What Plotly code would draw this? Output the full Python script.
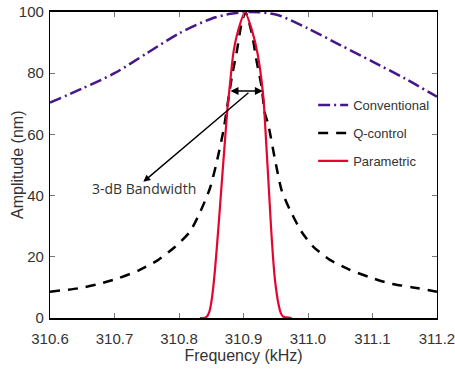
import plotly.graph_objects as go

# Conventional (dash-dot purple)
conv_f = [310.600, 310.650, 310.700, 310.750, 310.800, 310.850, 310.880, 310.910, 310.950, 311.000,
          311.050, 311.100, 311.150, 311.200]
conv_a = [70.4, 75.0, 80.0, 86.5, 93.0, 97.8, 99.4, 100.0, 99.2, 94.6,
          89.2, 83.8, 78.3, 72.3]

# Q-control (black dashed)
q_f = [310.600, 310.644, 310.675, 310.706, 310.737, 310.768, 310.794, 310.817, 310.833, 310.848,
       310.858, 310.869, 310.882, 310.890, 310.897, 310.903, 310.913, 310.920, 310.928, 310.933,
       310.938, 310.949, 310.959, 310.972, 310.990, 311.008, 311.034, 311.065, 311.096, 311.127,
       311.163, 311.200]
q_a = [8.6, 9.7, 11.1, 13.0, 15.5, 19.0, 23.3, 28.2, 34.7, 42.4,
       50.5, 61.4, 78.9, 87.6, 96.3, 100.0, 93.0, 84.3, 75.6, 67.0,
       63.6, 51.6, 41.8, 35.3, 28.2, 23.3, 19.0, 15.7, 13.3, 11.3,
       10.0, 8.6]

# Parametric (red solid)
p_f = [310.8326, 310.840, 310.843, 310.847, 310.8507, 310.8558, 310.862, 310.8749, 310.878, 310.8842,
       310.8919, 310.9023, 310.913, 310.9217, 310.9298, 310.9322, 310.9426, 310.9457, 310.9488, 310.954,
       310.958, 310.9617, 310.9747]
p_a = [0.0, 0.1, 0.4, 2.0, 5.9, 15.7, 32.0, 68.0, 74.2, 86.5,
       94.1, 100.0, 94.1, 86.5, 74.2, 68.0, 30.0, 20.0, 12.4, 4.8,
       1.5, 0.4, 0.0]

x_ticks = [310.6, 310.7, 310.8, 310.9, 311.0, 311.1, 311.2]
x_tick_labels = ["310.6", "310.7", "310.8", "310.9", "311.0", "311.1", "311.2"]
y_ticks = [0, 20, 40, 60, 80, 100]

# annotation anchor values
bw_low, bw_high, bw_level = 310.8775, 310.930, 74.2
arrow_tail = (310.910, 74.0)
arrow_tip = (310.7447, 44.5)
label_pos = (310.746, 42.2)

fig = go.Figure()
fig.add_trace(go.Scatter(x=conv_f, y=conv_a, mode="lines", name="Conventional",
                         legendgroup="a",
                         line=dict(color="#46178a", width=2.5, dash="12px,4px,2px,4px", shape="spline",
                                   smoothing=0.8)))
fig.add_trace(go.Scatter(x=q_f, y=q_a, mode="lines", name="Q-control",
                         legendgroup="b",
                         line=dict(color="black", width=2.5, dash="10px,8px", shape="spline", smoothing=0.6)))
fig.add_trace(go.Scatter(x=p_f, y=p_a, mode="lines", name="Parametric",
                         legendgroup="c",
                         line=dict(color="#e2062f", width=2.2, shape="spline", smoothing=0.6)))

# double-headed horizontal arrow (3-dB bandwidth)
fig.add_annotation(x=bw_high, y=bw_level, ax=bw_low, ay=bw_level, xref="x", yref="y",
                   axref="x", ayref="y", text="", showarrow=True, arrowhead=2, startarrowhead=2,
                   arrowside="end+start", arrowsize=1, arrowwidth=1.6, arrowcolor="black",
                   standoff=0, startstandoff=0)
# diagonal arrow
fig.add_annotation(x=arrow_tip[0], y=arrow_tip[1], ax=arrow_tail[0], ay=arrow_tail[1],
                   xref="x", yref="y", axref="x", ayref="y", text="", showarrow=True,
                   arrowhead=2, arrowsize=1, arrowwidth=1.4, arrowcolor="black", standoff=0)
fig.add_annotation(x=label_pos[0], y=label_pos[1], xref="x", yref="y", text="3-dB Bandwidth",
                   showarrow=False, yanchor="middle", xanchor="center",
                   font=dict(family="Open Sans", size=14, color="#333333"))
# y-axis title
fig.add_annotation(x=-0.0853, y=0.5, xref="paper", yref="paper", text="Amplitude (nm)",
                   showarrow=False, textangle=-90, xanchor="center", yanchor="middle",
                   font=dict(size=16, color="#333333"))

fig.update_layout(
    width=455, height=369,
    margin=dict(l=50, r=18, t=12, b=51),
    plot_bgcolor="white", paper_bgcolor="white",
    font=dict(family="Liberation Sans, Arial", color="#333333"),
    showlegend=True,
    legend=dict(x=0.68, y=0.745, xanchor="left", yanchor="top", bgcolor="rgba(0,0,0,0)",
                font=dict(size=13, color="#333333"), tracegroupgap=8,
                traceorder="grouped"),
    xaxis=dict(range=[310.6 - 1e-9, 311.2 + 1e-9], tickvals=x_ticks, ticktext=x_tick_labels,
               ticks="inside", ticklen=5, tickcolor="#777777", showline=True, linecolor="black",
               linewidth=2, mirror="ticks", showgrid=False, zeroline=False, automargin=False,
               ticklabelstandoff=6, ticklabeloverflow="allow",
               tickfont=dict(size=15), title=dict(text="Frequency (kHz)", font=dict(size=16), standoff=4)),
    yaxis=dict(range=[0, 100], tickvals=y_ticks, ticks="inside", ticklen=5, tickcolor="#777777",
               showline=True, linecolor="black", linewidth=1.3, mirror="ticks", showgrid=False,
               zeroline=False, tickfont=dict(size=15), automargin=False, ticklabelstandoff=2),
)
fig.write_html("out.html", config={"displayModeBar": False},
               post_script="document.body.style.margin='0';document.body.style.padding='0';")
